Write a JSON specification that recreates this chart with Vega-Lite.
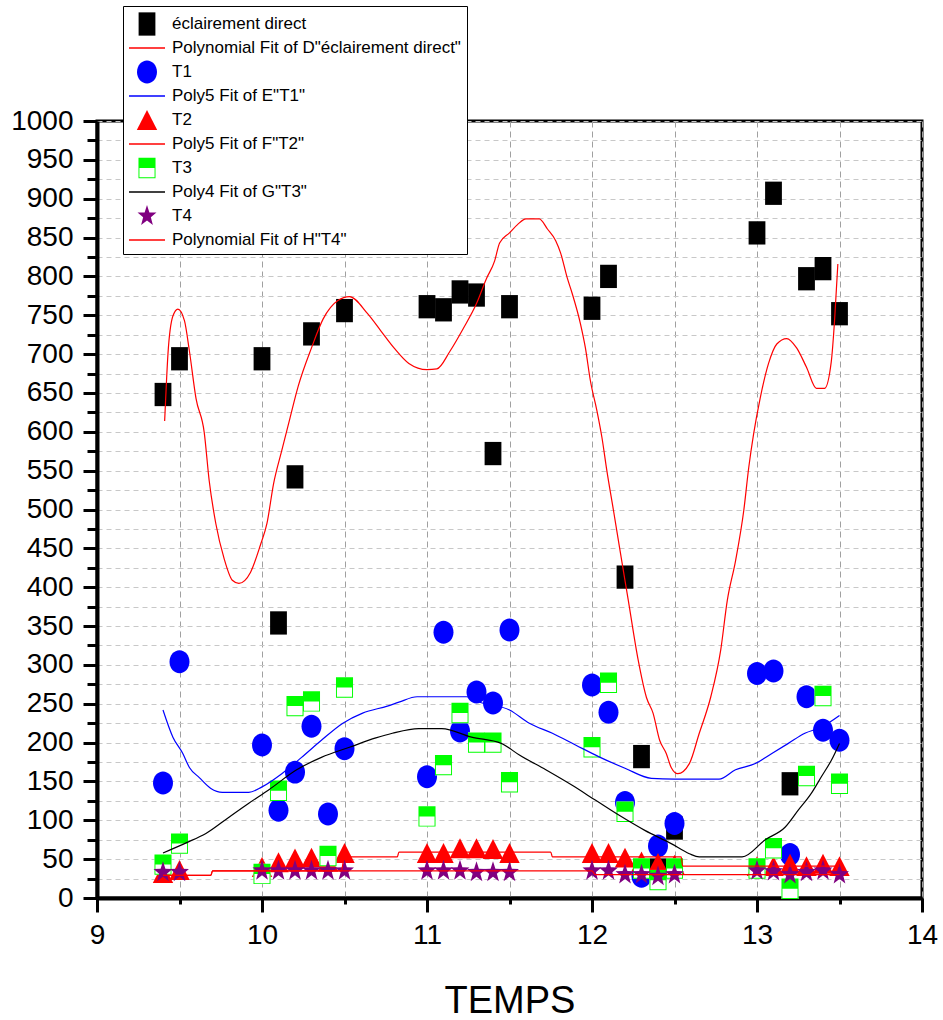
{
  "$schema": "https://vega.github.io/schema/vega-lite/v6.json",
  "width": 825,
  "height": 777,
  "autosize": {"type": "none"},
  "padding": {"left": 97, "top": 121, "right": 21, "bottom": 122},
  "background": "white",
  "config": {
    "font": "Liberation Sans",
    "view": {"stroke": "black", "strokeWidth": 3},
    "axis": {
      "domainColor": "black", "domainWidth": 4,
      "tickColor": "black", "tickWidth": 3,
      "labelColor": "black", "labelFont": "Liberation Sans", "labelFontSize": 28,
      "titleFont": "Liberation Sans", "titleColor": "black", "titleFontWeight": "normal",
      "grid": true
    }
  },
  "datasets": {
    "pts": [
      {"s":"éclairement direct","t":9.4,"v":648},{"s":"éclairement direct","t":9.5,"v":694},{"s":"éclairement direct","t":10.0,"v":694},{"s":"éclairement direct","t":10.1,"v":354},{"s":"éclairement direct","t":10.2,"v":542},{"s":"éclairement direct","t":10.3,"v":726},{"s":"éclairement direct","t":10.5,"v":756},{"s":"éclairement direct","t":11.0,"v":761},{"s":"éclairement direct","t":11.1,"v":757},{"s":"éclairement direct","t":11.2,"v":780},{"s":"éclairement direct","t":11.3,"v":776},{"s":"éclairement direct","t":11.4,"v":572},{"s":"éclairement direct","t":11.5,"v":761},{"s":"éclairement direct","t":12.0,"v":759},{"s":"éclairement direct","t":12.1,"v":800},{"s":"éclairement direct","t":12.2,"v":413},{"s":"éclairement direct","t":12.3,"v":182},{"s":"éclairement direct","t":12.4,"v":36},{"s":"éclairement direct","t":12.5,"v":90},{"s":"éclairement direct","t":13.0,"v":856},{"s":"éclairement direct","t":13.1,"v":907},{"s":"éclairement direct","t":13.2,"v":147},{"s":"éclairement direct","t":13.3,"v":797},{"s":"éclairement direct","t":13.4,"v":810},{"s":"éclairement direct","t":13.5,"v":752},
      {"s":"T1","t":9.4,"v":148},{"s":"T1","t":9.5,"v":304},{"s":"T1","t":10.0,"v":197},{"s":"T1","t":10.1,"v":113},{"s":"T1","t":10.2,"v":162},{"s":"T1","t":10.3,"v":221},{"s":"T1","t":10.4,"v":108},{"s":"T1","t":10.5,"v":192},{"s":"T1","t":11.0,"v":156},{"s":"T1","t":11.1,"v":342},{"s":"T1","t":11.2,"v":215},{"s":"T1","t":11.3,"v":265},{"s":"T1","t":11.4,"v":251},{"s":"T1","t":11.5,"v":345},{"s":"T1","t":12.0,"v":274},{"s":"T1","t":12.1,"v":239},{"s":"T1","t":12.2,"v":123},{"s":"T1","t":12.3,"v":28},{"s":"T1","t":12.4,"v":67},{"s":"T1","t":12.5,"v":96},{"s":"T1","t":13.0,"v":289},{"s":"T1","t":13.1,"v":292},{"s":"T1","t":13.2,"v":56},{"s":"T1","t":13.3,"v":259},{"s":"T1","t":13.4,"v":216},{"s":"T1","t":13.5,"v":203},
      {"s":"T2","t":9.4,"v":32},{"s":"T2","t":9.5,"v":36},{"s":"T2","t":10.0,"v":40},{"s":"T2","t":10.1,"v":46},{"s":"T2","t":10.2,"v":51},{"s":"T2","t":10.3,"v":52},{"s":"T2","t":10.4,"v":47},{"s":"T2","t":10.5,"v":58},{"s":"T2","t":11.0,"v":58},{"s":"T2","t":11.1,"v":58},{"s":"T2","t":11.2,"v":64},{"s":"T2","t":11.3,"v":64},{"s":"T2","t":11.4,"v":63},{"s":"T2","t":11.5,"v":58},{"s":"T2","t":12.0,"v":58},{"s":"T2","t":12.1,"v":58},{"s":"T2","t":12.2,"v":52},{"s":"T2","t":12.3,"v":47},{"s":"T2","t":12.4,"v":45},{"s":"T2","t":12.5,"v":43},{"s":"T2","t":13.0,"v":41},{"s":"T2","t":13.1,"v":41},{"s":"T2","t":13.2,"v":44},{"s":"T2","t":13.3,"v":41},{"s":"T2","t":13.4,"v":44},{"s":"T2","t":13.5,"v":41},
      {"s":"T3","t":9.4,"v":43},{"s":"T3","t":9.5,"v":70},{"s":"T3","t":10.0,"v":31},{"s":"T3","t":10.1,"v":138},{"s":"T3","t":10.2,"v":247},{"s":"T3","t":10.3,"v":253},{"s":"T3","t":10.4,"v":54},{"s":"T3","t":10.5,"v":271},{"s":"T3","t":11.0,"v":105},{"s":"T3","t":11.1,"v":171},{"s":"T3","t":11.2,"v":238},{"s":"T3","t":11.3,"v":200},{"s":"T3","t":11.4,"v":200},{"s":"T3","t":11.5,"v":149},{"s":"T3","t":12.0,"v":194},{"s":"T3","t":12.1,"v":277},{"s":"T3","t":12.2,"v":111},{"s":"T3","t":12.3,"v":38},{"s":"T3","t":12.4,"v":23},{"s":"T3","t":12.5,"v":38},{"s":"T3","t":13.0,"v":38},{"s":"T3","t":13.1,"v":64},{"s":"T3","t":13.2,"v":12},{"s":"T3","t":13.3,"v":157},{"s":"T3","t":13.4,"v":260},{"s":"T3","t":13.5,"v":147},
      {"s":"T4","t":9.4,"v":33},{"s":"T4","t":9.5,"v":33},{"s":"T4","t":10.0,"v":35},{"s":"T4","t":10.1,"v":35},{"s":"T4","t":10.2,"v":35},{"s":"T4","t":10.3,"v":35},{"s":"T4","t":10.4,"v":35},{"s":"T4","t":10.5,"v":35},{"s":"T4","t":11.0,"v":35},{"s":"T4","t":11.1,"v":35},{"s":"T4","t":11.2,"v":35},{"s":"T4","t":11.3,"v":33},{"s":"T4","t":11.4,"v":33},{"s":"T4","t":11.5,"v":33},{"s":"T4","t":12.0,"v":35},{"s":"T4","t":12.1,"v":35},{"s":"T4","t":12.2,"v":30},{"s":"T4","t":12.3,"v":30},{"s":"T4","t":12.4,"v":28},{"s":"T4","t":12.5,"v":30},{"s":"T4","t":13.0,"v":35},{"s":"T4","t":13.1,"v":34},{"s":"T4","t":13.2,"v":30},{"s":"T4","t":13.3,"v":33},{"s":"T4","t":13.4,"v":35},{"s":"T4","t":13.5,"v":30}
    ],
    "fits": [
      {"s":"Polynomial Fit of D\"éclairement direct\"","t":9.41,"v":614},{"s":"Polynomial Fit of D\"éclairement direct\"","t":9.42,"v":660},{"s":"Polynomial Fit of D\"éclairement direct\"","t":9.43,"v":700},{"s":"Polynomial Fit of D\"éclairement direct\"","t":9.46,"v":749},{"s":"Polynomial Fit of D\"éclairement direct\"","t":9.49,"v":758},{"s":"Polynomial Fit of D\"éclairement direct\"","t":9.53,"v":743},{"s":"Polynomial Fit of D\"éclairement direct\"","t":9.56,"v":704},{"s":"Polynomial Fit of D\"éclairement direct\"","t":9.6,"v":643},{"s":"Polynomial Fit of D\"éclairement direct\"","t":9.65,"v":599},{"s":"Polynomial Fit of D\"éclairement direct\"","t":9.68,"v":537},{"s":"Polynomial Fit of D\"éclairement direct\"","t":9.72,"v":482},{"s":"Polynomial Fit of D\"éclairement direct\"","t":9.77,"v":437},{"s":"Polynomial Fit of D\"éclairement direct\"","t":9.82,"v":409},{"s":"Polynomial Fit of D\"éclairement direct\"","t":9.86,"v":405},{"s":"Polynomial Fit of D\"éclairement direct\"","t":9.93,"v":419},{"s":"Polynomial Fit of D\"éclairement direct\"","t":9.99,"v":454},{"s":"Polynomial Fit of D\"éclairement direct\"","t":10.03,"v":482},{"s":"Polynomial Fit of D\"éclairement direct\"","t":10.07,"v":533},{"s":"Polynomial Fit of D\"éclairement direct\"","t":10.12,"v":576},{"s":"Polynomial Fit of D\"éclairement direct\"","t":10.17,"v":618},{"s":"Polynomial Fit of D\"éclairement direct\"","t":10.22,"v":659},{"s":"Polynomial Fit of D\"éclairement direct\"","t":10.3,"v":708},{"s":"Polynomial Fit of D\"éclairement direct\"","t":10.37,"v":745},{"s":"Polynomial Fit of D\"éclairement direct\"","t":10.46,"v":769},{"s":"Polynomial Fit of D\"éclairement direct\"","t":10.53,"v":774},{"s":"Polynomial Fit of D\"éclairement direct\"","t":10.64,"v":752},{"s":"Polynomial Fit of D\"éclairement direct\"","t":10.72,"v":730},{"s":"Polynomial Fit of D\"éclairement direct\"","t":10.8,"v":708},{"s":"Polynomial Fit of D\"éclairement direct\"","t":10.89,"v":688},{"s":"Polynomial Fit of D\"éclairement direct\"","t":11.0,"v":680},{"s":"Polynomial Fit of D\"éclairement direct\"","t":11.06,"v":681},{"s":"Polynomial Fit of D\"éclairement direct\"","t":11.14,"v":704},{"s":"Polynomial Fit of D\"éclairement direct\"","t":11.22,"v":733},{"s":"Polynomial Fit of D\"éclairement direct\"","t":11.3,"v":765},{"s":"Polynomial Fit of D\"éclairement direct\"","t":11.36,"v":797},{"s":"Polynomial Fit of D\"éclairement direct\"","t":11.41,"v":820},{"s":"Polynomial Fit of D\"éclairement direct\"","t":11.44,"v":843},{"s":"Polynomial Fit of D\"éclairement direct\"","t":11.5,"v":856},{"s":"Polynomial Fit of D\"éclairement direct\"","t":11.55,"v":867},{"s":"Polynomial Fit of D\"éclairement direct\"","t":11.6,"v":874},{"s":"Polynomial Fit of D\"éclairement direct\"","t":11.68,"v":874},{"s":"Polynomial Fit of D\"éclairement direct\"","t":11.73,"v":861},{"s":"Polynomial Fit of D\"éclairement direct\"","t":11.78,"v":846},{"s":"Polynomial Fit of D\"éclairement direct\"","t":11.81,"v":830},{"s":"Polynomial Fit of D\"éclairement direct\"","t":11.85,"v":798},{"s":"Polynomial Fit of D\"éclairement direct\"","t":11.88,"v":778},{"s":"Polynomial Fit of D\"éclairement direct\"","t":11.93,"v":739},{"s":"Polynomial Fit of D\"éclairement direct\"","t":11.96,"v":708},{"s":"Polynomial Fit of D\"éclairement direct\"","t":11.99,"v":666},{"s":"Polynomial Fit of D\"éclairement direct\"","t":12.03,"v":627},{"s":"Polynomial Fit of D\"éclairement direct\"","t":12.06,"v":593},{"s":"Polynomial Fit of D\"éclairement direct\"","t":12.09,"v":550},{"s":"Polynomial Fit of D\"éclairement direct\"","t":12.13,"v":499},{"s":"Polynomial Fit of D\"éclairement direct\"","t":12.17,"v":447},{"s":"Polynomial Fit of D\"éclairement direct\"","t":12.22,"v":383},{"s":"Polynomial Fit of D\"éclairement direct\"","t":12.28,"v":306},{"s":"Polynomial Fit of D\"éclairement direct\"","t":12.33,"v":258},{"s":"Polynomial Fit of D\"éclairement direct\"","t":12.37,"v":238},{"s":"Polynomial Fit of D\"éclairement direct\"","t":12.41,"v":203},{"s":"Polynomial Fit of D\"éclairement direct\"","t":12.45,"v":186},{"s":"Polynomial Fit of D\"éclairement direct\"","t":12.48,"v":168},{"s":"Polynomial Fit of D\"éclairement direct\"","t":12.52,"v":160},{"s":"Polynomial Fit of D\"éclairement direct\"","t":12.59,"v":173},{"s":"Polynomial Fit of D\"éclairement direct\"","t":12.65,"v":212},{"s":"Polynomial Fit of D\"éclairement direct\"","t":12.72,"v":259},{"s":"Polynomial Fit of D\"éclairement direct\"","t":12.78,"v":319},{"s":"Polynomial Fit of D\"éclairement direct\"","t":12.82,"v":383},{"s":"Polynomial Fit of D\"éclairement direct\"","t":12.87,"v":434},{"s":"Polynomial Fit of D\"éclairement direct\"","t":12.92,"v":499},{"s":"Polynomial Fit of D\"éclairement direct\"","t":12.95,"v":554},{"s":"Polynomial Fit of D\"éclairement direct\"","t":12.98,"v":598},{"s":"Polynomial Fit of D\"éclairement direct\"","t":13.02,"v":644},{"s":"Polynomial Fit of D\"éclairement direct\"","t":13.07,"v":688},{"s":"Polynomial Fit of D\"éclairement direct\"","t":13.12,"v":713},{"s":"Polynomial Fit of D\"éclairement direct\"","t":13.18,"v":720},{"s":"Polynomial Fit of D\"éclairement direct\"","t":13.24,"v":708},{"s":"Polynomial Fit of D\"éclairement direct\"","t":13.3,"v":683},{"s":"Polynomial Fit of D\"éclairement direct\"","t":13.36,"v":656},{"s":"Polynomial Fit of D\"éclairement direct\"","t":13.41,"v":656},{"s":"Polynomial Fit of D\"éclairement direct\"","t":13.45,"v":690},{"s":"Polynomial Fit of D\"éclairement direct\"","t":13.47,"v":743},{"s":"Polynomial Fit of D\"éclairement direct\"","t":13.49,"v":816},
      {"s":"Poly5 Fit of E\"T1\"","t":9.4,"v":242},{"s":"Poly5 Fit of E\"T1\"","t":9.46,"v":207},{"s":"Poly5 Fit of E\"T1\"","t":9.52,"v":186},{"s":"Poly5 Fit of E\"T1\"","t":9.56,"v":168},{"s":"Poly5 Fit of E\"T1\"","t":9.62,"v":155},{"s":"Poly5 Fit of E\"T1\"","t":9.69,"v":141},{"s":"Poly5 Fit of E\"T1\"","t":9.76,"v":136},{"s":"Poly5 Fit of E\"T1\"","t":9.92,"v":136},{"s":"Poly5 Fit of E\"T1\"","t":10.0,"v":143},{"s":"Poly5 Fit of E\"T1\"","t":10.12,"v":160},{"s":"Poly5 Fit of E\"T1\"","t":10.24,"v":181},{"s":"Poly5 Fit of E\"T1\"","t":10.36,"v":203},{"s":"Poly5 Fit of E\"T1\"","t":10.49,"v":225},{"s":"Poly5 Fit of E\"T1\"","t":10.61,"v":238},{"s":"Poly5 Fit of E\"T1\"","t":10.76,"v":247},{"s":"Poly5 Fit of E\"T1\"","t":10.83,"v":252},{"s":"Poly5 Fit of E\"T1\"","t":10.94,"v":259},{"s":"Poly5 Fit of E\"T1\"","t":11.24,"v":259},{"s":"Poly5 Fit of E\"T1\"","t":11.32,"v":252},{"s":"Poly5 Fit of E\"T1\"","t":11.5,"v":242},{"s":"Poly5 Fit of E\"T1\"","t":11.62,"v":225},{"s":"Poly5 Fit of E\"T1\"","t":11.76,"v":212},{"s":"Poly5 Fit of E\"T1\"","t":11.9,"v":197},{"s":"Poly5 Fit of E\"T1\"","t":12.04,"v":182},{"s":"Poly5 Fit of E\"T1\"","t":12.2,"v":167},{"s":"Poly5 Fit of E\"T1\"","t":12.36,"v":154},{"s":"Poly5 Fit of E\"T1\"","t":12.5,"v":153},{"s":"Poly5 Fit of E\"T1\"","t":12.77,"v":153},{"s":"Poly5 Fit of E\"T1\"","t":12.87,"v":165},{"s":"Poly5 Fit of E\"T1\"","t":12.99,"v":173},{"s":"Poly5 Fit of E\"T1\"","t":13.09,"v":186},{"s":"Poly5 Fit of E\"T1\"","t":13.19,"v":199},{"s":"Poly5 Fit of E\"T1\"","t":13.29,"v":212},{"s":"Poly5 Fit of E\"T1\"","t":13.39,"v":220},{"s":"Poly5 Fit of E\"T1\"","t":13.5,"v":235},
      {"s":"Poly5 Fit of F\"T2\"","t":9.4,"v":29},{"s":"Poly5 Fit of F\"T2\"","t":9.69,"v":29},{"s":"Poly5 Fit of F\"T2\"","t":9.7,"v":35},{"s":"Poly5 Fit of F\"T2\"","t":10.48,"v":35},{"s":"Poly5 Fit of F\"T2\"","t":10.5,"v":53},{"s":"Poly5 Fit of F\"T2\"","t":10.82,"v":53},{"s":"Poly5 Fit of F\"T2\"","t":10.83,"v":59},{"s":"Poly5 Fit of F\"T2\"","t":11.75,"v":59},{"s":"Poly5 Fit of F\"T2\"","t":11.76,"v":53},{"s":"Poly5 Fit of F\"T2\"","t":12.54,"v":53},{"s":"Poly5 Fit of F\"T2\"","t":12.55,"v":41},{"s":"Poly5 Fit of F\"T2\"","t":13.5,"v":41},
      {"s":"Poly4 Fit of G\"T3\"","t":9.4,"v":58},{"s":"Poly4 Fit of G\"T3\"","t":9.54,"v":71},{"s":"Poly4 Fit of G\"T3\"","t":9.66,"v":83},{"s":"Poly4 Fit of G\"T3\"","t":9.8,"v":104},{"s":"Poly4 Fit of G\"T3\"","t":9.92,"v":122},{"s":"Poly4 Fit of G\"T3\"","t":10.04,"v":139},{"s":"Poly4 Fit of G\"T3\"","t":10.21,"v":165},{"s":"Poly4 Fit of G\"T3\"","t":10.36,"v":181},{"s":"Poly4 Fit of G\"T3\"","t":10.53,"v":194},{"s":"Poly4 Fit of G\"T3\"","t":10.69,"v":206},{"s":"Poly4 Fit of G\"T3\"","t":10.79,"v":212},{"s":"Poly4 Fit of G\"T3\"","t":10.95,"v":218},{"s":"Poly4 Fit of G\"T3\"","t":11.09,"v":218},{"s":"Poly4 Fit of G\"T3\"","t":11.27,"v":207},{"s":"Poly4 Fit of G\"T3\"","t":11.45,"v":199},{"s":"Poly4 Fit of G\"T3\"","t":11.56,"v":184},{"s":"Poly4 Fit of G\"T3\"","t":11.72,"v":165},{"s":"Poly4 Fit of G\"T3\"","t":11.88,"v":145},{"s":"Poly4 Fit of G\"T3\"","t":12.02,"v":126},{"s":"Poly4 Fit of G\"T3\"","t":12.16,"v":107},{"s":"Poly4 Fit of G\"T3\"","t":12.32,"v":87},{"s":"Poly4 Fit of G\"T3\"","t":12.48,"v":70},{"s":"Poly4 Fit of G\"T3\"","t":12.59,"v":57},{"s":"Poly4 Fit of G\"T3\"","t":12.65,"v":53},{"s":"Poly4 Fit of G\"T3\"","t":12.91,"v":53},{"s":"Poly4 Fit of G\"T3\"","t":13.05,"v":75},{"s":"Poly4 Fit of G\"T3\"","t":13.17,"v":91},{"s":"Poly4 Fit of G\"T3\"","t":13.25,"v":113},{"s":"Poly4 Fit of G\"T3\"","t":13.33,"v":135},{"s":"Poly4 Fit of G\"T3\"","t":13.39,"v":156},{"s":"Poly4 Fit of G\"T3\"","t":13.45,"v":177},{"s":"Poly4 Fit of G\"T3\"","t":13.5,"v":199},
      {"s":"Polynomial Fit of H\"T4\"","t":9.4,"v":29},{"s":"Polynomial Fit of H\"T4\"","t":9.69,"v":29},{"s":"Polynomial Fit of H\"T4\"","t":9.7,"v":35},{"s":"Polynomial Fit of H\"T4\"","t":12.0,"v":35},{"s":"Polynomial Fit of H\"T4\"","t":12.02,"v":30},{"s":"Polynomial Fit of H\"T4\"","t":13.5,"v":30}
    ]
  },
  "encoding": {
    "x": {
      "field": "t", "type": "quantitative",
      "scale": {"domain": [9, 14], "nice": false, "zero": false},
      "axis": {
        "title": "TEMPS", "titleFontSize": 38, "titlePadding": 33,
        "values": [9, 9.5, 10, 10.5, 11, 11.5, 12, 12.5, 13, 13.5, 14],
        "labelExpr": "datum.value % 1 === 0 ? format(datum.value, 'd') : ''",
        "labelFlush": false, "labelOverlap": false, "labelPadding": 9,
        "tickSize": {"condition": {"test": "datum.value % 1 === 0", "value": 14}, "value": 6},
        "gridColor": "#a0a0a0", "gridDash": [6, 4], "gridWidth": 1
      }
    },
    "y": {
      "field": "v", "type": "quantitative",
      "scale": {"domain": [0, 1000], "nice": false},
      "axis": {
        "title": null,
        "values": [0,25,50,75,100,125,150,175,200,225,250,275,300,325,350,375,400,425,450,475,500,525,550,575,600,625,650,675,700,725,750,775,800,825,850,875,900,925,950,975,1000],
        "labelExpr": "datum.value % 50 === 0 ? format(datum.value, 'd') : ''",
        "labelOverlap": false, "labelPadding": 10,
        "tickSize": {"condition": {"test": "datum.value % 50 === 0", "value": 14}, "value": 10},
        "gridColor": "#c8c8c8", "gridDash": [5, 4], "gridWidth": 1
      }
    }
  },
  "layer": [
    {
      "data": {"name": "pts"},
      "transform": [{"filter": "datum.s === 'éclairement direct' || datum.s === 'T1' || datum.s === 'T2'"}],
      "mark": {"type": "point", "filled": true, "opacity": 1, "strokeWidth": 0, "size": 576},
      "encoding": {
        "color": {
          "field": "s", "type": "nominal",
          "scale": {
            "domain": ["éclairement direct", "Polynomial Fit of D\"éclairement direct\"", "T1", "Poly5 Fit of E\"T1\"", "T2", "Poly5 Fit of F\"T2\"", "T3", "Poly4 Fit of G\"T3\"", "T4", "Polynomial Fit of H\"T4\""],
            "range": ["#000000", "#FF0000", "#0000FF", "#0000FF", "#FF0000", "#FF0000", "#00FF00", "#000000", "#800080", "#FF0000"]
          },
          "legend": {
            "orient": "none", "legendX": 26, "legendY": -115, "direction": "vertical",
            "title": null, "strokeColor": "black", "fillColor": "white", "padding": 6,
            "rowPadding": 0, "symbolOffset": 6, "labelOffset": 13, "labelFont": "Liberation Sans", "labelFontSize": 17,
            "labelColor": "black", "labelLimit": 400, "symbolStrokeWidth": 0, "symbolOpacity": 1,
            "symbolSize": 576, "gridAlign": "all"
          }
        },
        "shape": {
          "field": "s", "type": "nominal",
          "scale": {
            "domain": ["éclairement direct", "Polynomial Fit of D\"éclairement direct\"", "T1", "Poly5 Fit of E\"T1\"", "T2", "Poly5 Fit of F\"T2\"", "T3", "Poly4 Fit of G\"T3\"", "T4", "Polynomial Fit of H\"T4\""],
            "range": [
              "M-0.7,-0.97H0.7V0.97H-0.7Z",
              "M-1.5,-0.058H1.5V0.058H-1.5Z",
              "M0,-0.958C0.46,-0.958,0.833,-0.529,0.833,0C0.833,0.529,0.46,0.958,0,0.958C-0.46,0.958,-0.833,0.529,-0.833,0C-0.833,-0.529,-0.46,-0.958,0,-0.958Z",
              "M-1.5,-0.058H1.5V0.058H-1.5Z",
              "M0,-0.83L0.85,0.83H-0.85Z",
              "M-1.5,-0.058H1.5V0.058H-1.5Z",
              "M-0.71,-0.85H0.71V0H-0.71ZM-0.71,0H-0.63V0.85H-0.71ZM0.63,0H0.71V0.85H0.63ZM-0.71,0.77H0.71V0.85H-0.71Z",
              "M-1.5,-0.058H1.5V0.058H-1.5Z",
              "M0,-0.92L0.2,-0.298L0.79,-0.284L0.32,0.114L0.49,0.744L0,0.368L-0.49,0.744L-0.32,0.114L-0.79,-0.284L-0.2,-0.298Z",
              "M-1.5,-0.058H1.5V0.058H-1.5Z"
            ]
          }
        }
      }
    },
    {
      "data": {"name": "pts"},
      "transform": [{"filter": "datum.s === 'T3'"}],
      "mark": {"type": "point", "filled": true, "opacity": 1, "color": "white", "strokeWidth": 0, "shape": "M-0.71,-0.85H0.71V0.85H-0.71Z", "size": 576}
    },
    {
      "data": {"name": "pts"},
      "transform": [{"filter": "datum.s === 'T3' || datum.s === 'T4'"}],
      "mark": {"type": "point", "filled": true, "opacity": 1, "strokeWidth": 0, "size": 576},
      "encoding": {
        "color": {
          "field": "s", "type": "nominal",
          "scale": {
            "domain": ["éclairement direct", "Polynomial Fit of D\"éclairement direct\"", "T1", "Poly5 Fit of E\"T1\"", "T2", "Poly5 Fit of F\"T2\"", "T3", "Poly4 Fit of G\"T3\"", "T4", "Polynomial Fit of H\"T4\""],
            "range": ["#000000", "#FF0000", "#0000FF", "#0000FF", "#FF0000", "#FF0000", "#00FF00", "#000000", "#800080", "#FF0000"]
          },
          "legend": {
            "orient": "none", "legendX": 26, "legendY": -115, "direction": "vertical",
            "title": null, "strokeColor": "black", "fillColor": "white", "padding": 6,
            "rowPadding": 0, "symbolOffset": 6, "labelOffset": 13, "labelFont": "Liberation Sans", "labelFontSize": 17,
            "labelColor": "black", "labelLimit": 400, "symbolStrokeWidth": 0, "symbolOpacity": 1,
            "symbolSize": 576, "gridAlign": "all"
          }
        },
        "shape": {
          "field": "s", "type": "nominal",
          "scale": {
            "domain": ["éclairement direct", "Polynomial Fit of D\"éclairement direct\"", "T1", "Poly5 Fit of E\"T1\"", "T2", "Poly5 Fit of F\"T2\"", "T3", "Poly4 Fit of G\"T3\"", "T4", "Polynomial Fit of H\"T4\""],
            "range": [
              "M-0.7,-0.97H0.7V0.97H-0.7Z",
              "M-1.5,-0.058H1.5V0.058H-1.5Z",
              "M0,-0.958C0.46,-0.958,0.833,-0.529,0.833,0C0.833,0.529,0.46,0.958,0,0.958C-0.46,0.958,-0.833,0.529,-0.833,0C-0.833,-0.529,-0.46,-0.958,0,-0.958Z",
              "M-1.5,-0.058H1.5V0.058H-1.5Z",
              "M0,-0.83L0.85,0.83H-0.85Z",
              "M-1.5,-0.058H1.5V0.058H-1.5Z",
              "M-0.71,-0.85H0.71V0H-0.71ZM-0.71,0H-0.63V0.85H-0.71ZM0.63,0H0.71V0.85H0.63ZM-0.71,0.77H0.71V0.85H-0.71Z",
              "M-1.5,-0.058H1.5V0.058H-1.5Z",
              "M0,-0.92L0.2,-0.298L0.79,-0.284L0.32,0.114L0.49,0.744L0,0.368L-0.49,0.744L-0.32,0.114L-0.79,-0.284L-0.2,-0.298Z",
              "M-1.5,-0.058H1.5V0.058H-1.5Z"
            ]
          }
        }
      }
    },
    {
      "data": {"name": "fits"},
      "mark": {"type": "line", "strokeWidth": 1.2, "interpolate": "monotone"},
      "encoding": {
        "color": {
          "field": "s", "type": "nominal",
          "scale": {
            "domain": ["éclairement direct", "Polynomial Fit of D\"éclairement direct\"", "T1", "Poly5 Fit of E\"T1\"", "T2", "Poly5 Fit of F\"T2\"", "T3", "Poly4 Fit of G\"T3\"", "T4", "Polynomial Fit of H\"T4\""],
            "range": ["#000000", "#FF0000", "#0000FF", "#0000FF", "#FF0000", "#FF0000", "#00FF00", "#000000", "#800080", "#FF0000"]
          },
          "legend": null
        }
      }
    }
  ]
}
